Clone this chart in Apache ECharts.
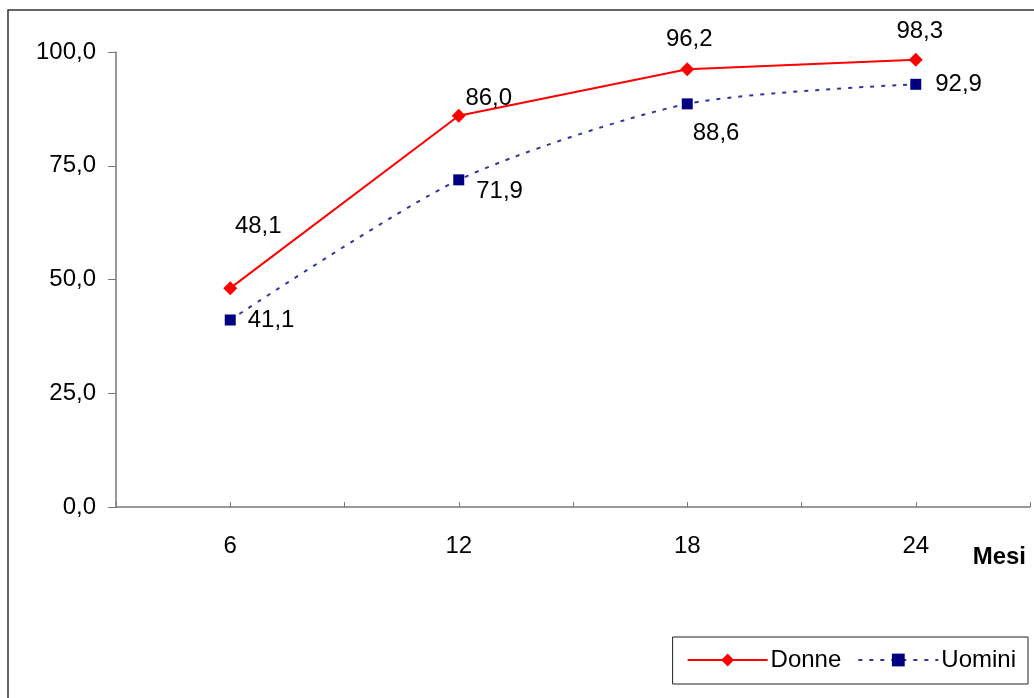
<!DOCTYPE html>
<html><head><meta charset="utf-8">
<script src="https://cdn.jsdelivr.net/npm/echarts@6/dist/echarts.min.js"></script>
<style>html,body{margin:0;padding:0;background:#fff}#c{width:1034px;height:698px}</style>
</head><body><div id="c"></div>
<script>
const months = [6, 12, 18, 24];
const donne = [48.1, 86.0, 96.2, 98.3];
const uomini = [41.1, 71.9, 88.6, 92.9];
const donneLabelOffsets = [[28, -35], [30, 10], [2, -3], [4, -1]];
const uominiLabelOffsets = [[6, 0], [6, 12], [-6, 30], [8, 0]];
const fmt = v => v.toFixed(1).replace('.', ',');
const font = 'Liberation Sans, Arial, sans-serif';

const chart = echarts.init(document.getElementById('c'));
chart.setOption({
  animation: false,
  grid: { left: 116, right: 4, top: 52, bottom: 191 },
  graphic: [
    { type: 'rect', shape: { x: 8, y: 10, width: 1040, height: 700 },
      style: { fill: null, stroke: '#333', lineWidth: 1.5 }, silent: true, z: -1 },
    { type: 'text', right: 8, top: 545,
      style: { text: 'Mesi', font: 'bold 24px ' + font, fill: '#000' } }
  ],
  legend: {
    right: 6, top: 637,
    itemWidth: 80, itemHeight: 16, itemGap: 16,
    padding: [11, 12, 12, 14],
    borderColor: '#222', borderWidth: 1,
    textStyle: { fontSize: 24, fontFamily: font, color: '#000', padding: [0, 0, 0, -2] },
    data: ['Donne', 'Uomini']
  },
  xAxis: {
    type: 'value', min: 3, max: 27, interval: 3,
    axisLine: { lineStyle: { color: '#777', width: 1.5 } },
    axisTick: { inside: true, length: 5, lineStyle: { color: '#777' } },
    splitLine: { show: false },
    axisLabel: {
      margin: 27, fontSize: 24, fontFamily: font, color: '#000',
      formatter: v => (v % 6 === 0 ? String(v) : '')
    }
  },
  yAxis: {
    type: 'value', min: 0, max: 100, interval: 25,
    axisLine: { show: true, lineStyle: { color: '#777', width: 1.5 } },
    axisTick: { show: true, length: 8, lineStyle: { color: '#777' } },
    splitLine: { show: false },
    axisLabel: { margin: 20, fontSize: 24, fontFamily: font, color: '#000', formatter: v => fmt(v) }
  },
  series: [
    {
      name: 'Donne', type: 'line',
      data: months.map((m, i) => ({ value: [m, donne[i]],
        label: { offset: donneLabelOffsets[i] } })),
      symbol: 'diamond', symbolSize: 14,
      itemStyle: { color: '#ff0000' },
      lineStyle: { color: '#ff0000', width: 2 },
      label: { show: true, position: 'top', distance: 8, fontSize: 24, fontFamily: font, color: '#000',
        formatter: p => fmt(p.value[1]) },
      z: 3
    },
    {
      name: 'Uomini', type: 'line', smooth: 0.25,
      data: months.map((m, i) => ({ value: [m, uomini[i]],
        label: { offset: uominiLabelOffsets[i] } })),
      symbol: 'rect', symbolSize: 11,
      itemStyle: { color: '#000080' },
      lineStyle: { color: '#333399', width: 2, type: [4, 7] },
      label: { show: true, position: 'right', distance: 6, fontSize: 24, fontFamily: font, color: '#000',
        formatter: p => fmt(p.value[1]) },
      z: 2
    }
  ]
});
</script></body></html>
